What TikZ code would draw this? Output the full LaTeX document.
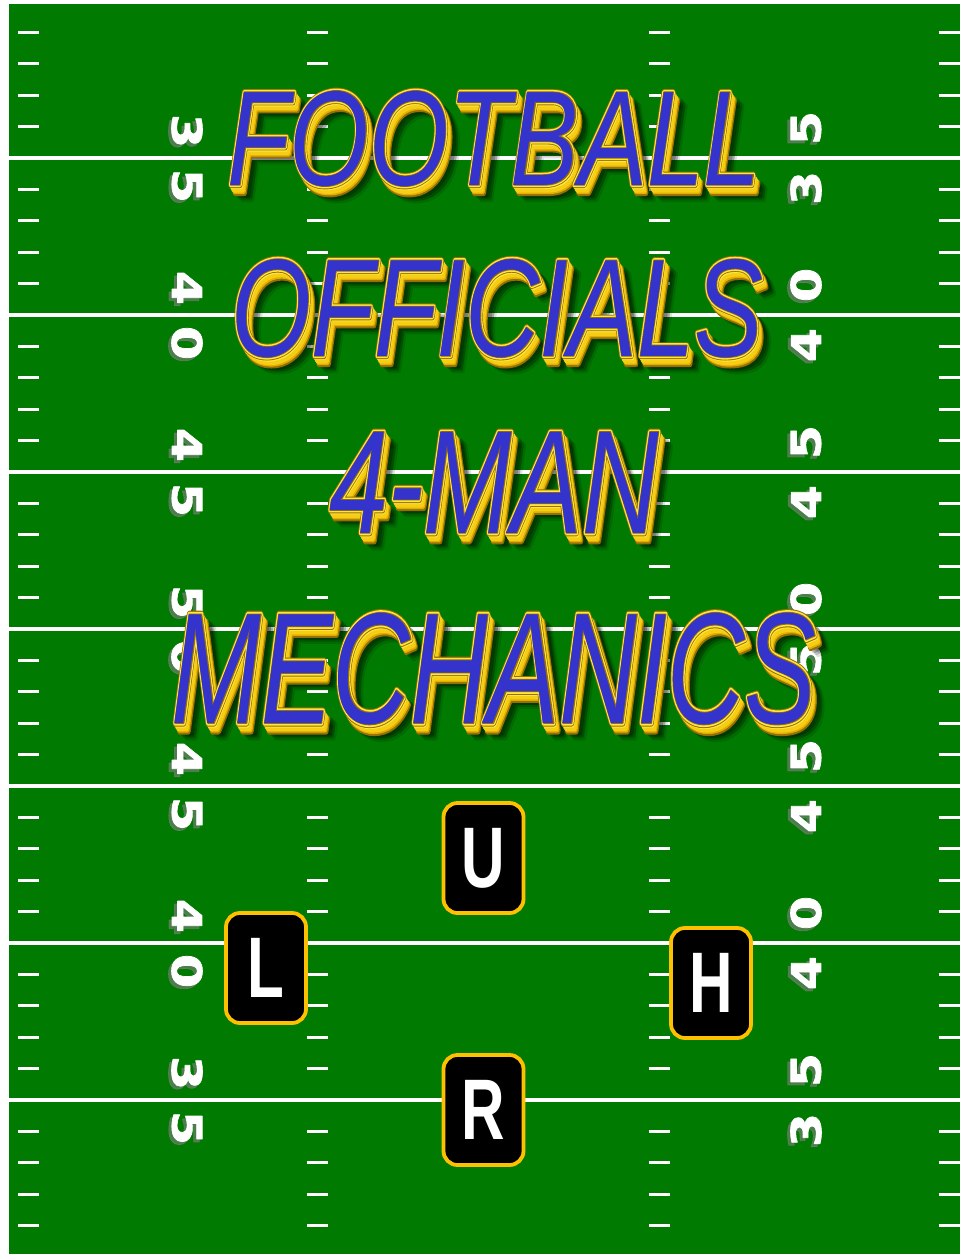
\documentclass[tikz,border=0pt]{standalone}
\usepackage{fontspec}
\setmainfont{Liberation Sans}
\newfontfamily\ttlface{Liberation Sans Italic}
\newfontfamily\ttlthin{Liberation Sans Italic}[FakeBold=1]
\newfontfamily\ttlrim{Liberation Sans Italic}[FakeBold=3.2]
\newfontfamily\ttledge{Liberation Sans Italic}[FakeBold=4.5]
\newfontfamily\numfont{DejaVu Sans Bold}[FakeBold=1.5]
\newfontfamily\badgefont{Liberation Sans Bold}
\usetikzlibrary{positioning,calc}
\definecolor{turf}{RGB}{0,122,0}
\definecolor{titleblue}{RGB}{52,52,204}
\definecolor{goldA}{RGB}{255,230,60}
\definecolor{goldB}{RGB}{245,205,20}
\definecolor{goldC}{RGB}{225,175,0}
\definecolor{darkgold}{RGB}{150,110,10}
\definecolor{badgegold}{RGB}{255,192,0}
\newcommand{\hashcol}[1]{\foreach \k in {0,...,7} {\foreach \j in {1,...,4} {\draw[hash] (#1-10.5,1+157*\k+31.4*\j) -- (#1+10.5,1+157*\k+31.4*\j);}}}
\newcommand{\yardnum}[5]{\node[numshadow, rotate=#4] (#1s) at (#2-3,#3+3) {\scalebox{1.2}[1]{#5}};
  \node[numtext, rotate=#4] (#1) at (#2,#3) {\scalebox{1.2}[1]{#5}};}
\newcommand{\headline}[6]{\foreach \f/\col/\dx/\dy/\op [count=\n] in {%
    \ttledge/black/12/14/0.12, \ttledge/black/10/12/0.15, \ttledge/black/8/10/0.2,
    \ttledge/darkgold/4.5/8/1, \ttlrim/goldC/4/7/1, \ttlrim/goldB/3/5.5/1, \ttlrim/goldB/2/4/1, \ttlrim/goldA/1/2/1,
    \ttledge/darkgold/0/0/1, \ttlrim/goldA/0/0/1, \ttlthin/darkgold/0/0/1, \ttlface/titleblue/0/0/1} {
    \node[ttl, text=\col, text opacity=\op] (#1-\n) at (#2+\dx,#3+\dy) {\scalebox{#4}[1]{\f\fontsize{#5}{#5}\selectfont #6}};}}

\begin{document}
\begin{tikzpicture}[x=1pt,y=-1pt,
  yard/.style={draw=white, line width=3.5pt},
  hash/.style={draw=white, line width=3.3pt},
  numtext/.style={text=white, inner sep=0pt, line join=round, font=\numfont\fontsize{41}{41}\selectfont},
  numshadow/.style={numtext, text=black!50, text opacity=0.6},
  ttl/.style={inner sep=0pt, anchor=base, line join=round},
  badge/.style={draw=badgegold, line width=3.8pt, fill=black, rounded corners=14pt,
    minimum width=80pt, minimum height=110pt, inner sep=0pt, text=white,
    font=\badgefont\fontsize{86}{86}\selectfont}]
  \useasboundingbox (0,0) rectangle (960,1254);
  \fill[white] (0,0) rectangle (960,1254);
  % ------------------------------------------------------------------ field
  \fill[turf] (9,4) rectangle (960,1254);
  \foreach \k in {1,...,7} {\draw[yard] (9,1+157*\k) -- (960,1+157*\k);}
  \hashcol{28.5} \hashcol{317.5} \hashcol{659} \hashcol{949}
  % ------------------------------------------------------------------ yard numbers
  \foreach \a/\b [count=\k] in {3/5,4/0,4/5,5/0,4/5,4/0,3/5} {
    \pgfmathsetmacro{\yl}{1+157*\k}
    \yardnum{ln\k-a}{187}{\yl-27}{-90}{\a}
    \yardnum{ln\k-b}{187}{\yl+28}{-90}{\b}
    \yardnum{rn\k-a}{806}{\yl+30}{90}{\a}
    \yardnum{rn\k-b}{806}{\yl-30}{90}{\b}
  }
  % ------------------------------------------------------------------ title
  \headline{foot}{494}{185}{0.756}{135}{FOOTBALL}
  \headline{offi}{497}{356}{0.74}{139}{OFFICIALS}
  \headline{four}{494}{533}{0.72}{147}{4-MAN}
  \headline{mech}{494}{723}{0.68}{158}{MECHANICS}
  % ------------------------------------------------------------------ officials
  \node[badge] (U) at (483.5,858) {\scalebox{0.7}[1]{U}};
  \node[badge] (L) at (266,968) {\scalebox{0.7}[1]{L}};
  \node[badge] (H) at (711,983) {\scalebox{0.7}[1]{H}};
  \node[badge] (R) at (483.5,1110) {\scalebox{0.7}[1]{R}};
\end{tikzpicture}
\end{document}
